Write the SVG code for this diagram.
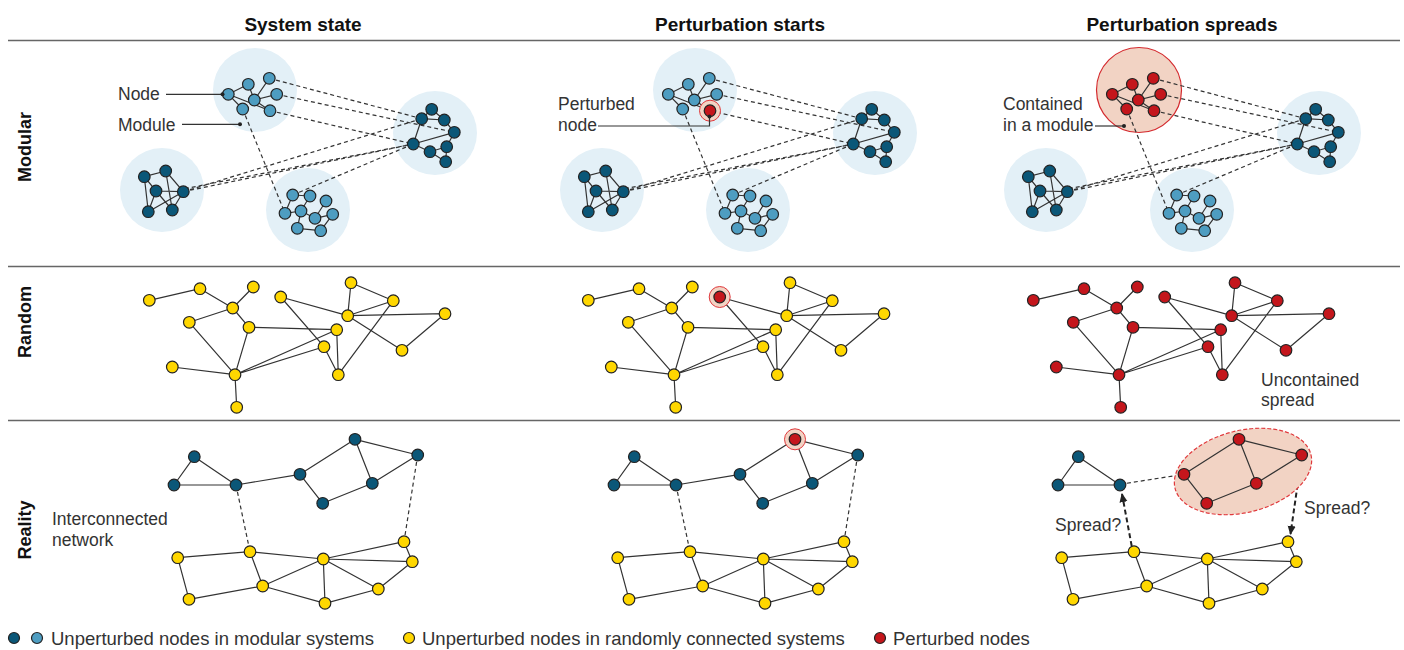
<svg xmlns="http://www.w3.org/2000/svg" xmlns:xlink="http://www.w3.org/1999/xlink" width="1404" height="650" viewBox="0 0 1404 650">
<style>
.e{stroke:#333;stroke-width:1.2;fill:none}
.d{stroke:#333;stroke-width:1.2;fill:none;stroke-dasharray:4 3}
.arr{stroke:#222;stroke-width:2;fill:none;stroke-dasharray:5 3}
.n circle{stroke:#222;stroke-width:1.2}
.mod{fill:#e3f0f7}
.hdr{font-family:"Liberation Sans",Arial,sans-serif;font-weight:bold;font-size:19px;fill:#111;text-anchor:middle}
.row{font-family:"Liberation Sans",Arial,sans-serif;font-weight:bold;font-size:18px;fill:#111;text-anchor:middle}
.lbl{font-family:"Liberation Sans",Arial,sans-serif;font-size:17.5px;fill:#333}
.leg{font-family:"Liberation Sans",Arial,sans-serif;font-size:18.5px;fill:#333}
.sep{stroke:#666;stroke-width:1.5}
.ptr{stroke:#333;stroke-width:1.2;fill:none}
.halo{fill:#f2d3c4;stroke:#e0393c;stroke-width:1}
</style>
<defs>
<marker id="ah" viewBox="0 0 10 10" refX="9" refY="5" markerWidth="4.5" markerHeight="4.5" orient="auto"><path d="M0,0.5 L10,5 L0,9.5 Z" fill="#222"/></marker>
<g id="mTopE"><path class="e" d="M228.3,94.3L248.3,84.3M228.3,94.3L242.7,109M228.3,94.3L270,110.7M248.3,84.3L254.3,100M269.3,78.3L254.3,100M254.3,100L276.7,94.3M254.3,100L270,110.7"/></g>
<g id="mTopN" class="n"><circle cx="228.3" cy="94.3" r="5.8"/><circle cx="248.3" cy="84.3" r="5.8"/><circle cx="269.3" cy="78.3" r="5.8"/><circle cx="254.3" cy="100" r="5.8"/><circle cx="276.7" cy="94.3" r="5.8"/><circle cx="242.7" cy="109" r="5.8"/><circle cx="270" cy="110.7" r="5.8"/></g>
<g id="mRightE"><path class="e" d="M431.7,109.3L421.7,118.7M431.7,109.3L444.3,120M421.7,118.7L444.3,120M444.3,120L454.3,132.3M421.7,118.7L413.3,144M413.3,144L454.3,132.3M413.3,144L430,151.7M430,151.7L445.7,161.7M446.7,146.7L445.7,161.7M446.7,146.7L454.3,132.3M430,151.7L446.7,146.7"/></g>
<g id="mRightN" class="n"><circle cx="431.7" cy="109.3" r="5.8"/><circle cx="421.7" cy="118.7" r="5.8"/><circle cx="444.3" cy="120" r="5.8"/><circle cx="454.3" cy="132.3" r="5.8"/><circle cx="413.3" cy="144" r="5.8"/><circle cx="430" cy="151.7" r="5.8"/><circle cx="446.7" cy="146.7" r="5.8"/><circle cx="445.7" cy="161.7" r="5.8"/></g>
<g id="mLeftE"><path class="e" d="M144.3,176.7L165.7,171M144.3,176.7L156,191M144.3,176.7L148.3,211.7M165.7,171L183.3,191.7M165.7,171L172.3,210M156,191L183.3,191.7M156,191L172.3,210M148.3,211.7L183.3,191.7M148.3,211.7L156,191M183.3,191.7L172.3,210"/></g>
<g id="mLeftN" class="n"><circle cx="144.3" cy="176.7" r="5.8"/><circle cx="165.7" cy="171" r="5.8"/><circle cx="156" cy="191" r="5.8"/><circle cx="183.3" cy="191.7" r="5.8"/><circle cx="148.3" cy="211.7" r="5.8"/><circle cx="172.3" cy="210" r="5.8"/></g>
<g id="mBotE"><path class="e" d="M292.7,195L310,196M292.7,195L285,213.3M310,196L301,211M326,201L315,218.3M301,211L315,218.3M301,211L297.3,228.3M315,218.3L332.7,214.3M332.7,214.3L320.7,230.7M297.3,228.3L320.7,230.7M285,213.3L301,211"/></g>
<g id="mBotN" class="n"><circle cx="292.7" cy="195" r="5.8"/><circle cx="310" cy="196" r="5.8"/><circle cx="326" cy="201" r="5.8"/><circle cx="285" cy="213.3" r="5.8"/><circle cx="301" cy="211" r="5.8"/><circle cx="315" cy="218.3" r="5.8"/><circle cx="332.7" cy="214.3" r="5.8"/><circle cx="297.3" cy="228.3" r="5.8"/><circle cx="320.7" cy="230.7" r="5.8"/></g>
<g id="mDash"><path class="d" d="M269.3,78.3L421.7,118.7M276.7,94.3L454.3,132.3M270,110.7L413.3,144M242.7,109L285,213.3M183.3,191.7L421.7,118.7M183.3,191.7L413.3,144M178,190L413.3,144M292.7,195L413.3,144"/></g>
<g id="rE"><path class="e" d="M149.3,300.3L200,288.7M200,288.7L232.7,308M253.3,287L232.7,308M232.7,308L189.3,322.3M232.7,308L249,327.3M189.3,322.3L235,374.7M249,327.3L235,374.7M249,327.3L336.7,329.7M172.3,367L235,374.7M235,374.7L236.7,407.3M235,374.7L336.7,329.7M235,374.7L324,346.7M280.7,297L347.7,315.7M280.7,297L324,346.7M324,346.7L338.3,374.7M336.7,329.7L338.3,374.7M351,282.7L347.7,315.7M351,282.7L393.3,300.7M393.3,300.7L347.7,315.7M347.7,315.7L445,313.7M347.7,315.7L402,350.3M445,313.7L402,350.3M393.3,300.7L338.3,374.7"/></g>
<g id="rN" class="n"><circle cx="149.3" cy="300.3" r="5.8"/><circle cx="200" cy="288.7" r="5.8"/><circle cx="253.3" cy="287" r="5.8"/><circle cx="232.7" cy="308" r="5.8"/><circle cx="189.3" cy="322.3" r="5.8"/><circle cx="249" cy="327.3" r="5.8"/><circle cx="172.3" cy="367" r="5.8"/><circle cx="235" cy="374.7" r="5.8"/><circle cx="236.7" cy="407.3" r="5.8"/><circle cx="280.7" cy="297" r="5.8"/><circle cx="336.7" cy="329.7" r="5.8"/><circle cx="324" cy="346.7" r="5.8"/><circle cx="338.3" cy="374.7" r="5.8"/><circle cx="351" cy="282.7" r="5.8"/><circle cx="393.3" cy="300.7" r="5.8"/><circle cx="347.7" cy="315.7" r="5.8"/><circle cx="445" cy="313.7" r="5.8"/><circle cx="402" cy="350.3" r="5.8"/></g>
<g id="tAE"><path class="e" d="M194.3,456.7L174,485M194.3,456.7L236,485M174,485L236,485"/></g>
<g id="tAN" class="n"><circle cx="194.3" cy="456.7" r="5.8"/><circle cx="174" cy="485" r="5.8"/><circle cx="236" cy="485" r="5.8"/></g>
<g id="tBE"><path class="e" d="M300,474.3L355,439.3M300,474.3L322.7,503.3M355,439.3L417.7,455M355,439.3L372.3,483.3M417.7,455L372.3,483.3M372.3,483.3L322.7,503.3"/></g>
<g id="tBN" class="n"><circle cx="300" cy="474.3" r="5.8"/><circle cx="355" cy="439.3" r="5.8"/><circle cx="417.7" cy="455" r="5.8"/><circle cx="372.3" cy="483.3" r="5.8"/><circle cx="322.7" cy="503.3" r="5.8"/></g>
<g id="yE"><path class="e" d="M177.7,557.7L250,551.7M177.7,557.7L189,599.3M250,551.7L323.3,559M250,551.7L262.7,586M189,599.3L262.7,586M262.7,586L323.3,559M262.7,586L325,603.3M323.3,559L325,603.3M323.3,559L378.3,589M323.3,559L404,541.7M323.3,559L412.3,561.7M404,541.7L412.3,561.7M412.3,561.7L378.3,589M325,603.3L378.3,589"/></g>
<g id="yN" class="n"><circle cx="177.7" cy="557.7" r="5.8"/><circle cx="250" cy="551.7" r="5.8"/><circle cx="323.3" cy="559" r="5.8"/><circle cx="404" cy="541.7" r="5.8"/><circle cx="412.3" cy="561.7" r="5.8"/><circle cx="189" cy="599.3" r="5.8"/><circle cx="262.7" cy="586" r="5.8"/><circle cx="325" cy="603.3" r="5.8"/><circle cx="378.3" cy="589" r="5.8"/></g>
</defs>

<rect width="1404" height="650" fill="#fff"/>

<g id="headers">
<text class="hdr" x="303" y="31">System state</text>
<text class="hdr" x="740" y="31">Perturbation starts</text>
<text class="hdr" x="1182" y="31">Perturbation spreads</text>
<line class="sep" x1="8" y1="40.5" x2="1400" y2="40.5"/>
<line class="sep" x1="8" y1="266.5" x2="1400" y2="266.5"/>
<line class="sep" x1="8" y1="420.5" x2="1400" y2="420.5"/>
<text class="row" transform="translate(31,147) rotate(-90)">Modular</text>
<text class="row" transform="translate(31,322) rotate(-90)">Random</text>
<text class="row" transform="translate(31,530) rotate(-90)">Reality</text>
</g>

<g id="modular-modules">
<circle class="mod" cx="255" cy="90" r="42"/><circle class="mod" cx="435" cy="133" r="42"/><circle class="mod" cx="162" cy="190" r="42"/><circle class="mod" cx="308" cy="210" r="42"/>
<circle class="mod" cx="695" cy="90" r="42"/><circle class="mod" cx="875" cy="133" r="42"/><circle class="mod" cx="602" cy="190" r="42"/><circle class="mod" cx="748" cy="210" r="42"/>
<circle cx="1139" cy="90" r="42.5" fill="#f2d3c4" stroke="#d42a2e" stroke-width="1.2"/><circle class="mod" cx="1319" cy="133" r="42"/><circle class="mod" cx="1046" cy="190" r="42"/><circle class="mod" cx="1192" cy="210" r="42"/>
</g>
<g id="connectors">
<use xlink:href="#mDash"/><use xlink:href="#mDash" x="440"/><use xlink:href="#mDash" x="884"/>
<use xlink:href="#tAE"/><use xlink:href="#tAE" x="440"/><use xlink:href="#tAE" x="884"/>
<use xlink:href="#tBE"/><use xlink:href="#tBE" x="440"/>
<path class="e" d="M236,485L300,474.3M676,485L740,474.3"/>
<path class="d" d="M1120,484.3L1184,474.3"/>
<path class="d" d="M236,485L250,551.7M417.7,455L404,541.7M676,485L690,551.7M857.7,455L844,541.7"/>
<use xlink:href="#yE"/><use xlink:href="#yE" x="440"/><use xlink:href="#yE" x="884"/>
<use xlink:href="#rE"/><use xlink:href="#rE" x="439"/><use xlink:href="#rE" x="884"/>
<path class="arr" d="M1131.7,546L1122,494" marker-end="url(#ah)"/>
<path class="arr" d="M1301,461L1290.5,534" marker-end="url(#ah)"/>
</g>
<g id="mod-s1"><use xlink:href="#mTopE"/><use xlink:href="#mTopN" fill="#4e9dc1"/><use xlink:href="#mRightE"/><use xlink:href="#mRightN" fill="#0b5778"/><use xlink:href="#mLeftE"/><use xlink:href="#mLeftN" fill="#0b5778"/><use xlink:href="#mBotE"/><use xlink:href="#mBotN" fill="#4e9dc1"/></g>
<g id="mod-s2" transform="translate(440,0)"><use xlink:href="#mTopE"/><use xlink:href="#mTopN" fill="#4e9dc1"/><use xlink:href="#mRightE"/><use xlink:href="#mRightN" fill="#0b5778"/><use xlink:href="#mLeftE"/><use xlink:href="#mLeftN" fill="#0b5778"/><use xlink:href="#mBotE"/><use xlink:href="#mBotN" fill="#4e9dc1"/>
<circle class="halo" cx="270" cy="110.7" r="10.5"/><circle cx="270" cy="110.7" r="5.8" fill="#c4161c" stroke="#222" stroke-width="1.2"/></g>
<g id="mod-s3" transform="translate(884,0)"><use xlink:href="#mTopE"/><use xlink:href="#mTopN" fill="#c4161c"/><use xlink:href="#mRightE"/><use xlink:href="#mRightN" fill="#0b5778"/><use xlink:href="#mLeftE"/><use xlink:href="#mLeftN" fill="#0b5778"/><use xlink:href="#mBotE"/><use xlink:href="#mBotN" fill="#4e9dc1"/></g>

<g id="mod-labels">
<text class="lbl" x="118" y="100">Node</text>
<line class="ptr" x1="166" y1="94.3" x2="222" y2="94.3"/><circle cx="222.5" cy="94.3" r="2" fill="#222"/>
<text class="lbl" x="118" y="131">Module</text>
<line class="ptr" x1="182" y1="124.3" x2="240" y2="124.3"/><circle cx="240" cy="124.3" r="2" fill="#222"/>
<text class="lbl" x="558" y="109.5">Perturbed</text>
<text class="lbl" x="558" y="131">node</text>
<path class="ptr" d="M598,126H709.5V116.5"/><circle cx="709.5" cy="116.5" r="2" fill="#222"/>
<text class="lbl" x="1003" y="109.5">Contained</text>
<text class="lbl" x="1003" y="131">in a module</text>
<line class="ptr" x1="1095" y1="126" x2="1124" y2="126"/><circle cx="1124" cy="126" r="2" fill="#222"/>
</g>

<g id="rand-s1"><use xlink:href="#rN" fill="#ffd700"/></g>
<g id="rand-s2" transform="translate(439,0)"><use xlink:href="#rN" fill="#ffd700"/><circle class="halo" cx="280.7" cy="297" r="10.5"/><circle cx="280.7" cy="297" r="5.8" fill="#c4161c" stroke="#222" stroke-width="1.2"/></g>
<g id="rand-s3" transform="translate(884,0)"><use xlink:href="#rN" fill="#c4161c"/></g>
<text class="lbl" x="1261" y="386">Uncontained</text>
<text class="lbl" x="1261" y="406">spread</text>

<g id="real-s1"><use xlink:href="#tAN" fill="#0b5778"/><use xlink:href="#tBN" fill="#0b5778"/><use xlink:href="#yN" fill="#ffd700"/></g>
<text class="lbl" x="52" y="525">Interconnected</text>
<text class="lbl" x="52" y="546">network</text>
<g id="real-s2" transform="translate(440,0)"><use xlink:href="#tAN" fill="#0b5778"/><use xlink:href="#tBN" fill="#0b5778"/><use xlink:href="#yN" fill="#ffd700"/>
<circle class="halo" cx="355" cy="439.3" r="10.5"/><circle cx="355" cy="439.3" r="5.8" fill="#c4161c" stroke="#222" stroke-width="1.2"/></g>
<g id="real-s3">
<ellipse cx="1243" cy="471.5" rx="70" ry="41" transform="rotate(-14 1243 471.5)" fill="#f2d3c4" stroke="#e0393c" stroke-width="1.2" stroke-dasharray="4 2"/>
<use xlink:href="#tBE" x="884"/>
<g transform="translate(884,0)"><use xlink:href="#tAN" fill="#0b5778"/><use xlink:href="#tBN" fill="#c4161c"/><use xlink:href="#yN" fill="#ffd700"/></g>
</g>
<text class="lbl" x="1055" y="531">Spread?</text>
<text class="lbl" x="1304" y="514">Spread?</text>

<g id="legend">
<circle cx="14" cy="638" r="5.5" fill="#0b5778" stroke="#222" stroke-width="1.2"/>
<circle cx="37" cy="638" r="5.5" fill="#4e9dc1" stroke="#222" stroke-width="1.2"/>
<text class="leg" x="51" y="645">Unperturbed nodes in modular systems</text>
<circle cx="409" cy="638" r="5.5" fill="#ffd700" stroke="#222" stroke-width="1.2"/>
<text class="leg" x="422" y="645">Unperturbed nodes in randomly connected systems</text>
<circle cx="880" cy="638" r="5.5" fill="#c4161c" stroke="#222" stroke-width="1.2"/>
<text class="leg" x="893" y="645">Perturbed nodes</text>
</g>
</svg>
